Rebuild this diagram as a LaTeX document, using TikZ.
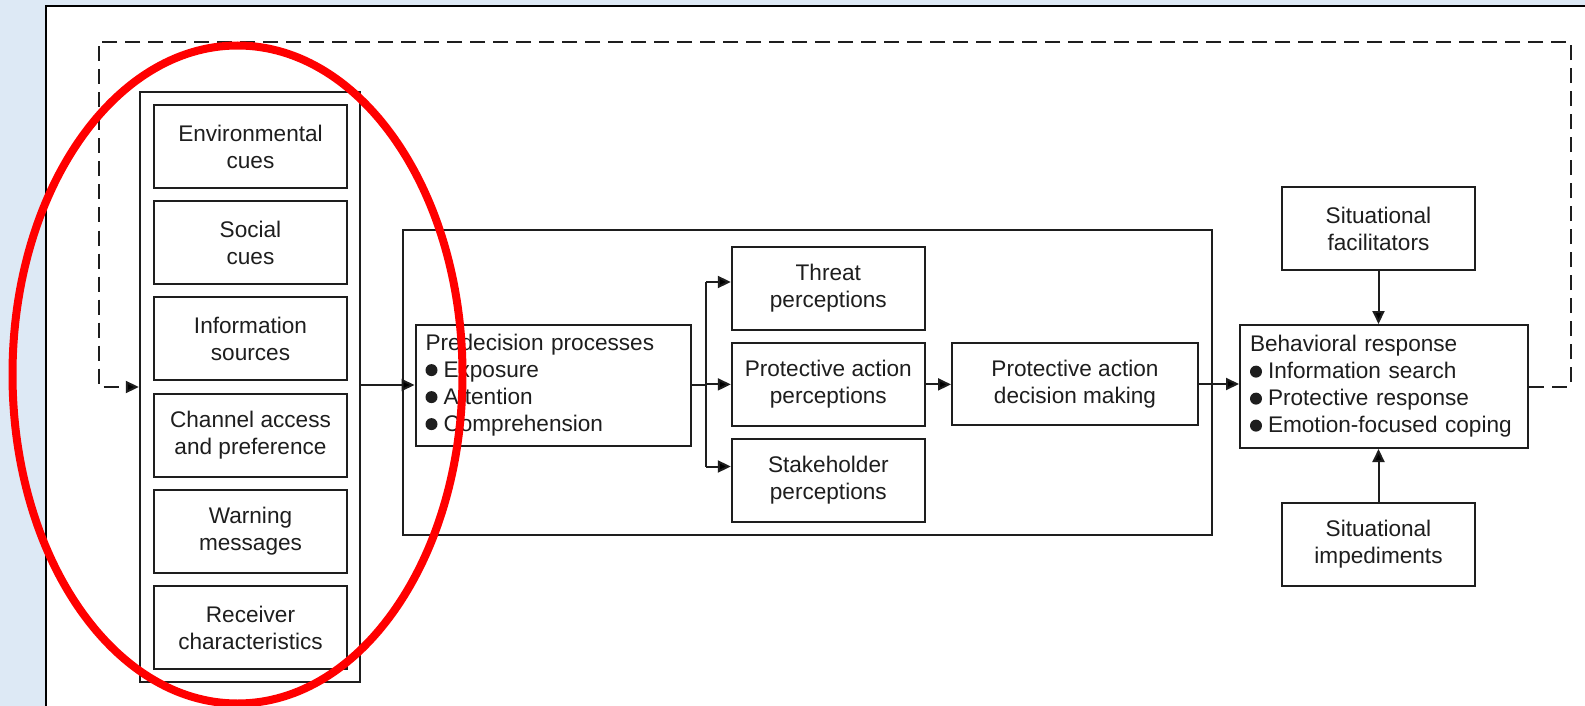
\documentclass[tikz,border=0pt]{standalone}
\usepackage{fontspec}
\setmainfont{Liberation Sans}
\usepackage{tikz}
\usetikzlibrary{calc,arrows.meta}
\definecolor{panelblue}{RGB}{221,233,245}
\definecolor{ink}{RGB}{30,30,30}
\newcommand{\bigdot}{\tikz[baseline=-3.6pt]\fill[ink] (0,0) circle[radius=3pt];\hspace{3pt}}
\tikzset{
    box/.style={
        draw=ink,
        line width=1pt,
        minimum width=96.5pt,
        minimum height=41.5pt,
        align=center,
        inner sep=2pt,
        text=ink,
        font=\fontsize{11.3}{13.5}\selectfont
    },
    listbox/.style={
        box,
        align=left,
        inner xsep=5pt
    },
    frame/.style={
        draw=ink,
        line width=1.2pt
    },
    flow/.style={
        draw=ink,
        line width=1pt,
        -{Triangle[length=6.5pt,width=6pt]}
    },
    loopline/.style={
        flow,
        dash pattern=on 7.5pt off 4pt
    }
}

\begin{document}
\begin{tikzpicture}[x=0.5pt,y=-0.5pt]

    \useasboundingbox (0,0) rectangle (1585,706);
    \fill[panelblue] (0,0) rectangle (1585,706);
    \fill[white] (45.5,6.5) rectangle (1585,706);
    \draw[line width=1pt] (45.5,706) -- (45.5,6.5) -- (1585,6.5);

    %% Inputs column
    \node (Col) [frame,minimum width=110pt,minimum height=295pt] at (250,387) {};
    \node (Cue1) [box] at (250.5,146.5) {Environmental\\cues};
    \node (Cue2) [box] at (250.5,242.7) {Social\\cues};
    \node (Cue3) [box] at (250.5,338.9) {Information\\sources};
    \node (Cue4) [box] at (250.5,435.1) {Channel access\\and preference};
    \node (Cue5) [box] at (250.5,531.3) {Warning\\messages};
    \node (Cue6) [box] at (250.5,627.5) {Receiver\\characteristics};

    %% Decision stages
    \node (Mid) [frame,minimum width=404.5pt,minimum height=152.5pt] at (807.5,382.5) {};
    \node (Pre) [listbox,minimum width=137.5pt,minimum height=60.5pt,text width=127.5pt]
        at (553,385) {Predecision processes\\\bigdot Exposure\\\bigdot Attention\\\bigdot Comprehension};
    \node (Thr) [box] at (828.3,288) {Threat\\perceptions};
    \node (PAP) [box] at (828.3,384.4) {Protective action\\perceptions};
    \node (Stk) [box] at (828.3,480.5) {Stakeholder\\perceptions};
    \node (PAD) [box,minimum width=123pt,minimum height=41pt] at (1075,384) {Protective action\\decision making};

    %% Response
    \node (Beh) [listbox,minimum width=144pt,minimum height=61.5pt,text width=134pt]
        at (1384,386.5) {Behavioral response\\\bigdot Information search\\\bigdot Protective response\\\bigdot Emotion-focused coping};
    \node (Fac) [box] at (1378.5,228.5) {Situational\\facilitators};
    \node (Imp) [box] at (1378.5,544.5) {Situational\\impediments};

    %% Connectors
    \coordinate (F) at (706,384);
    \draw[flow] (Col.east |- Pre.west) -- (Pre.west);
    \draw[line width=1pt,draw=ink] (Pre.east) -- (Pre.east -| F);
    \draw[line width=1pt,draw=ink] ($(F |- Thr.west)+(0,-6)$) -- ($(F |- Stk.west)+(0,-14)$);
    \draw[flow] ($(F |- Thr.west)+(0,-6)$) -- ($(Thr.west)+(0,-6)$);
    \draw[flow] (F |- PAP.west) -- (PAP.west);
    \draw[flow] ($(F |- Stk.west)+(0,-14)$) -- ($(Stk.west)+(0,-14)$);
    \draw[flow] (PAP.east) -- (PAP.east -| PAD.west);
    \draw[flow] (PAD.east) -- (PAD.east -| Beh.west);
    \draw[flow] (Fac.south) -- (Fac.south |- Beh.north);
    \draw[flow] (Imp.north) -- (Imp.north |- Beh.south);

    %% Feedback loop
    \coordinate (NE) at (1570.7,41.7);
    \coordinate (NW) at (99,41.7);
    \draw[loopline] (Beh.east) -| (NE) -- (NW) |- (Col.west);

    %% Highlight
    \draw[red,line width=4pt] (237.5,374.5) ellipse [x radius=112.5pt,y radius=164.5pt];

\end{tikzpicture}
\end{document}
